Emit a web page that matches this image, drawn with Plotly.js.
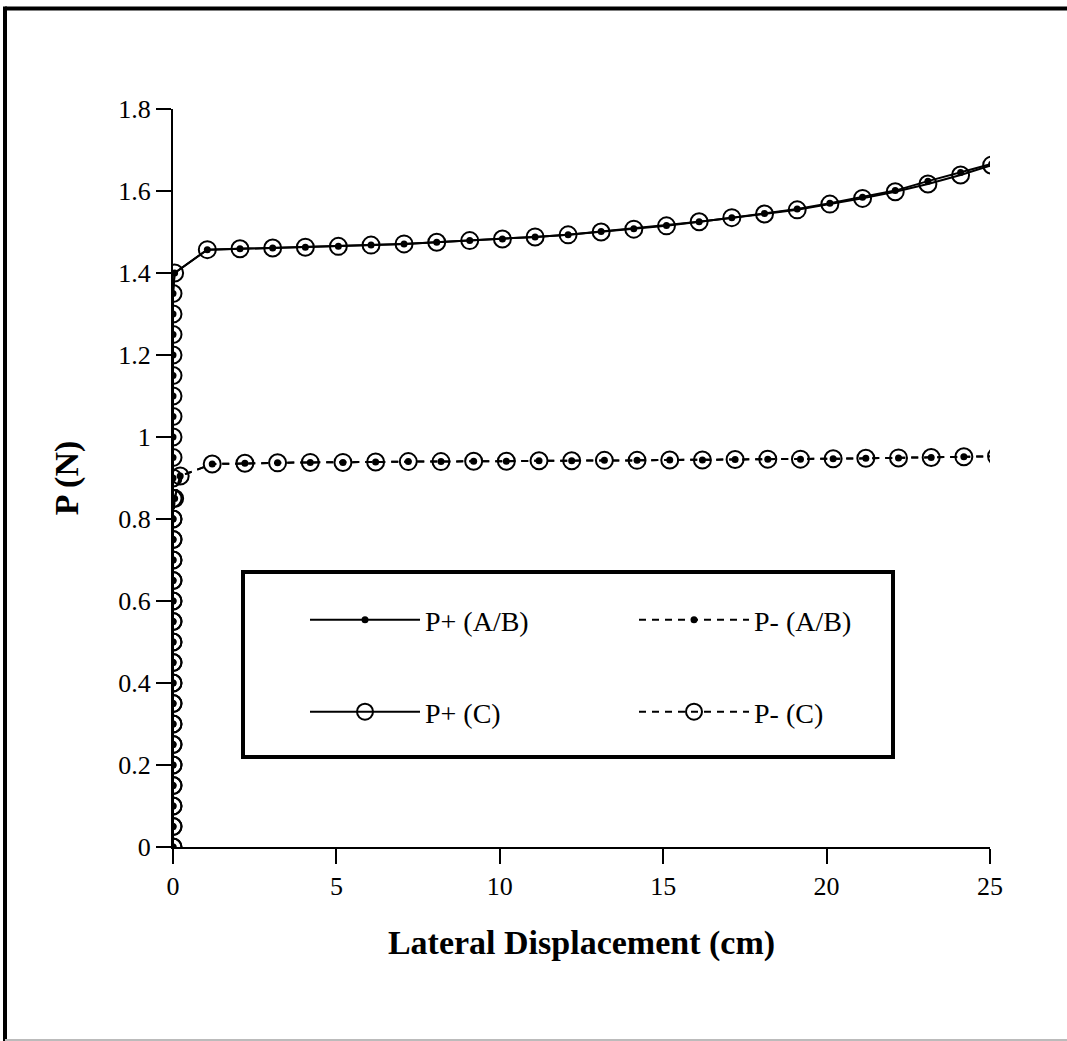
<!DOCTYPE html>
<html>
<head>
<meta charset="utf-8">
<script src="https://cdn.plot.ly/plotly-3.0.1.min.js"></script>
<style>
html,body{margin:0;padding:0;background:#fff;}
#chart{width:1067px;height:1041px;}
</style>
</head>
<body>
<div id="chart"></div>
<script>
// ---- data ----
var pPlusX = [0,0,0,0,0,0,0,0,0,0,0,0,0,0,0,0,0,0,0,0,0,0,0,0,0,0,0,0,0.05,
  1.05,2.05,3.05,4.05,5.06,6.06,7.07,8.07,9.08,10.08,11.08,12.09,13.1,14.1,15.1,16.1,17.1,18.1,19.1,20.1,21.1,22.1,23.1,24.1,25.05];
var pPlusAB = [0,0.05,0.1,0.15,0.2,0.25,0.3,0.35,0.4,0.45,0.5,0.55,0.6,0.65,0.7,0.75,0.8,0.85,0.9,0.95,1,1.05,1.1,1.15,1.2,1.25,1.3,1.35,1.4,
  1.457,1.459,1.461,1.463,1.465,1.468,1.471,1.475,1.479,1.483,1.488,1.493,1.501,1.508,1.516,1.525,1.535,1.545,1.556,1.570,1.585,1.601,1.624,1.645,1.666];
var pPlusC = [0,0.05,0.1,0.15,0.2,0.25,0.3,0.35,0.4,0.45,0.5,0.55,0.6,0.65,0.7,0.75,0.8,0.85,0.9,0.95,1,1.05,1.1,1.15,1.2,1.25,1.3,1.35,1.4,
  1.457,1.459,1.461,1.463,1.465,1.468,1.471,1.475,1.479,1.483,1.488,1.493,1.500,1.507,1.515,1.525,1.535,1.544,1.554,1.568,1.582,1.598,1.617,1.639,1.663];
var pMinusX = [0,0,0,0,0,0,0,0,0,0,0,0,0,0,0,0,0,0.05,0.22,
  1.2,2.2,3.2,4.2,5.2,6.2,7.2,8.2,9.2,10.2,11.2,12.2,13.2,14.2,15.2,16.2,17.2,18.2,19.2,20.2,21.2,22.2,23.2,24.2,25.2];
var pMinusAB = [0,0.05,0.1,0.15,0.2,0.25,0.3,0.35,0.4,0.45,0.5,0.55,0.6,0.65,0.7,0.75,0.8,0.85,0.905,
  0.934,0.936,0.937,0.938,0.938,0.939,0.940,0.940,0.941,0.941,0.942,0.942,0.943,0.943,0.944,0.944,0.945,0.946,0.946,0.947,0.948,0.949,0.950,0.952,0.953];
var pMinusC = [0,0.05,0.1,0.15,0.2,0.25,0.3,0.35,0.4,0.45,0.5,0.55,0.6,0.65,0.7,0.75,0.8,0.85,0.905,
  0.934,0.936,0.937,0.938,0.938,0.939,0.940,0.940,0.941,0.941,0.942,0.942,0.943,0.943,0.944,0.944,0.945,0.946,0.946,0.947,0.948,0.949,0.950,0.952,0.953];
var seriesNames = ['P+ (A/B)', 'P- (A/B)', 'P+ (C)', 'P- (C)'];
var xTickVals = [0,5,10,15,20,25];
var yTickVals = [0,0.2,0.4,0.6,0.8,1,1.2,1.4,1.6,1.8];

var FONT = 'Liberation Serif, Times New Roman, serif';

var traces = [
  {x: pPlusX, y: pPlusC, name: seriesNames[2], legend: 'legend3', mode: 'lines+markers',
   line: {color: '#000', width: 2},
   marker: {symbol: 'circle-open', size: 17, color: '#000', line: {width: 2, color: '#000'}}},
  {x: pMinusX, y: pMinusC, name: seriesNames[3], legend: 'legend4', mode: 'lines+markers',
   line: {color: '#000', width: 2, dash: '7px,6px'},
   marker: {symbol: 'circle-open', size: 17, color: '#000', line: {width: 2, color: '#000'}}},
  {x: pPlusX, y: pPlusAB, name: seriesNames[0], legend: 'legend', mode: 'lines+markers',
   line: {color: '#000', width: 2},
   marker: {symbol: 'circle', size: 7, color: '#000'}},
  {x: pMinusX, y: pMinusAB, name: seriesNames[1], legend: 'legend2', mode: 'lines+markers',
   line: {color: '#000', width: 2, dash: '7px,6px'},
   marker: {symbol: 'circle', size: 7, color: '#000'}}
];

// plot area in px: left 173, right 990, top 109, bottom 847
function px2x(p){ return (p - 173) / 817; }
function py2y(p){ return (847 - p) / 738; }

function legendAt(xpx, ypx){
  return {x: px2x(xpx), y: py2y(ypx), xanchor: 'left', yanchor: 'middle',
    bgcolor: 'rgba(0,0,0,0)', borderwidth: 0, itemwidth: 110,
    font: {family: FONT, size: 28, color: '#000'}};
}

var layout = {
  width: 1067, height: 1041,
  margin: {l: 173, r: 77, t: 109, b: 194, pad: 0},
  paper_bgcolor: '#fff', plot_bgcolor: '#fff',
  font: {family: FONT, color: '#000'},
  showlegend: true,
  xaxis: {
    range: [0, 25], tickvals: xTickVals, showgrid: false, zeroline: false,
    showline: true, linecolor: '#000', linewidth: 2,
    ticks: 'outside', ticklen: 15, tickwidth: 2, tickcolor: '#000',
    tickfont: {family: FONT, size: 26, color: '#000'},
    title: {text: 'Lateral Displacement (cm)', standoff: 30,
      font: {family: FONT, size: 34, color: '#000', weight: 'bold'}}
  },
  yaxis: {
    range: [0, 1.8], tickvals: yTickVals, showgrid: false, zeroline: false,
    showline: true, linecolor: '#000', linewidth: 2,
    ticks: 'outside', ticklen: 15, tickwidth: 2, tickcolor: '#000',
    tickfont: {family: FONT, size: 26, color: '#000'},
    title: {text: 'P (N)', standoff: 29,
      font: {family: FONT, size: 34, color: '#000', weight: 'bold'}}
  },
  legend: legendAt(305, 620),
  legend2: legendAt(634, 620),
  legend3: legendAt(305, 712),
  legend4: legendAt(634, 712),
  shapes: [
    {type: 'rect', xref: 'paper', yref: 'paper', x0: px2x(243), x1: px2x(893), y0: py2y(757), y1: py2y(572),
     line: {color: '#000', width: 4}, fillcolor: 'rgba(0,0,0,0)'},
    {type: 'line', xref: 'paper', yref: 'paper', x0: px2x(5), x1: px2x(1080), y0: py2y(8.5), y1: py2y(8.5),
     line: {color: '#000', width: 4}},
    {type: 'line', xref: 'paper', yref: 'paper', x0: px2x(5), x1: px2x(5), y0: py2y(6.5), y1: py2y(1041),
     line: {color: '#000', width: 4}},
    {type: 'line', xref: 'paper', yref: 'paper', x0: px2x(5), x1: px2x(1080), y0: py2y(1040), y1: py2y(1040),
     line: {color: '#bbb', width: 2}}
  ]
};

Plotly.newPlot('chart', traces, layout, {displayModeBar: false, staticPlot: true});
</script>
</body>
</html>
